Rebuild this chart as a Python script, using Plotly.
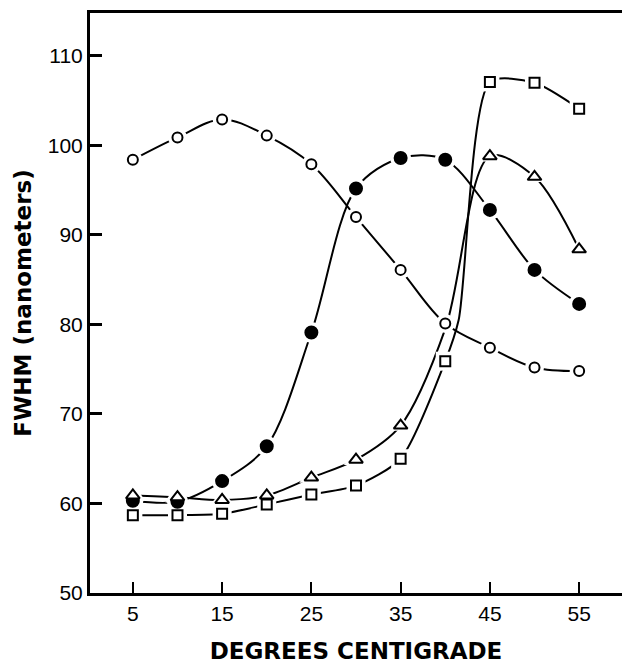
import plotly.graph_objects as go

# ---- data ----
temps = [5, 10, 15, 20, 25, 30, 35, 40, 45, 50, 55]
open_circles = [98.4, 100.9, 102.9, 101.1, 97.9, 92.0, 86.1, 80.1, 77.4, 75.2, 74.8]
filled_circles = [60.3, 60.2, 62.5, 66.4, 79.1, 95.2, 98.6, 98.4, 92.8, 86.1, 82.3]
triangles = [60.9, 60.7, 60.4, 60.9, 62.9, 64.9, 68.7, None, 98.8, 96.5, 88.4]
squares = [58.7, 58.7, 58.85, 59.9, 61.0, 62.0, 65.0, 75.9, 107.1, 107.0, 104.1]

# points the drawn curves pass through where no symbol is plotted
tri_knot_x = [40]
tri_knot_y = [79.5]
sq_knot_x = [41.5]
sq_knot_y = [80.5]

x_ticks = [5, 15, 25, 35, 45, 55]
y_ticks = [50, 60, 70, 80, 90, 100, 110]


def curve(xs, ys, kx=(), ky=()):
    pts = [(a, b) for a, b in zip(xs, ys) if b is not None] + list(zip(kx, ky))
    pts.sort()
    return [p[0] for p in pts], [p[1] for p in pts]


series = [
    dict(y=open_circles, sym="circle", fill="white", size=10, kx=(), ky=(), sm=1.0),
    dict(y=filled_circles, sym="circle", fill="black", size=12, kx=(), ky=(), sm=0.9),
    dict(y=triangles, sym="triangle-up", fill="white", size=12, kx=tri_knot_x, ky=tri_knot_y, sm=0.9),
    dict(y=squares, sym="square", fill="white", size=10, kx=sq_knot_x, ky=sq_knot_y, sm=0.7),
]

fig = go.Figure()

# lines
for s in series:
    cx, cy = curve(temps, s["y"], s["kx"], s["ky"])
    fig.add_trace(go.Scatter(x=cx, y=cy, mode="lines",
                             line=dict(color="black", width=2, shape="spline", smoothing=s["sm"]),
                             hoverinfo="skip", showlegend=False))
# white halos (gap between line and symbol)
for s in series:
    fig.add_trace(go.Scatter(x=temps, y=s["y"], mode="markers",
                             marker=dict(symbol=s["sym"], size=s["size"] + 9, color="white",
                                         line=dict(width=0)),
                             hoverinfo="skip", showlegend=False))
# symbols
for s in series:
    fig.add_trace(go.Scatter(x=temps, y=s["y"], mode="markers",
                             marker=dict(symbol=s["sym"], size=s["size"], color=s["fill"],
                                         line=dict(color="black", width=2)),
                             showlegend=False))

# page body has an 8px default margin, so the figure is sized to fit the window
fig.update_layout(
    width=622, height=656,
    margin=dict(l=82, r=8, t=2, b=71),
    paper_bgcolor="white", plot_bgcolor="white",
    font=dict(family="Liberation Sans, Arial, sans-serif", color="black", size=21),
)
fig.update_xaxes(
    range=[0.2, 59.8], tickvals=x_ticks, ticktext=[str(v) for v in x_ticks],
    showgrid=False, zeroline=False,
    showline=True, linecolor="black", linewidth=3, mirror=True,
    ticks="inside", ticklen=11, tickwidth=1.5, tickcolor="black",
    tickfont=dict(size=21),
    title=dict(text="DEGREES CENTIGRADE", standoff=20,
               font=dict(family="DejaVu Sans", size=23, weight="bold")),
)
fig.update_yaxes(
    range=[50, 114.8], tickvals=y_ticks, ticktext=[str(v) for v in y_ticks],
    showgrid=False, zeroline=False,
    showline=True, linecolor="black", linewidth=3, mirror=True,
    ticks="inside", ticklen=12, tickwidth=2.5, tickcolor="black",
    tickfont=dict(size=21),
    title=dict(text="FWHM (nanometers)", standoff=10,
               font=dict(family="DejaVu Sans", size=23, weight="bold")),
)

fig.write_html("out.html")
